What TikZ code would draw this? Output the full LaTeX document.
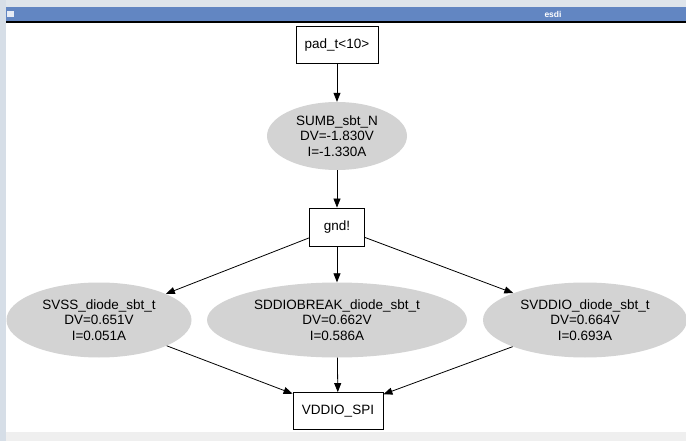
\documentclass[tikz,border=0pt]{standalone}
\usepackage{fontspec}
\setmainfont{Liberation Sans}
\usetikzlibrary{shapes.geometric,arrows.meta}

\definecolor{barblue}{HTML}{6286C2}
\definecolor{framegray}{HTML}{D6DEE7}
\definecolor{topgray}{HTML}{DFE5EB}
\definecolor{footgray}{HTML}{EFEFEF}
\definecolor{cellgray}{HTML}{D3D3D3}

\tikzset{
    netbox/.style={draw=black, fill=white, line width=0.8pt, inner sep=0pt,
        minimum height=37pt, font=\fontsize{13.5}{15.5}\selectfont},
    diodeoval/.style={ellipse, fill=cellgray, inner sep=0pt, align=center,
        minimum height=75pt, font=\fontsize{13.5}{15.5}\selectfont},
    flow/.style={line width=0.8pt, -{Triangle[length=9pt, width=7pt]}}
}

\newcommand{\esdedges}{%
    pad/sumb, sumb/gnd, gnd/svss, gnd/sddio, gnd/svddio,
    svss/vddio, sddio/vddio, svddio/vddio%
}

\begin{document}
\begin{tikzpicture}[x=1pt, y=-1pt]
    % Window frame
    \useasboundingbox (0,0) rectangle (686,441);
    \fill[framegray] (0,0) rectangle (686,441);
    \fill[topgray] (6,0) rectangle (686,7);
    \fill[barblue] (6,7) rectangle (686,21);
    \fill[black] (6,21) rectangle (686,23);
    \fill[white] (6,23) rectangle (686,432);
    \fill[footgray] (6,432) rectangle (686,441);
    \fill[white, opacity=0.85] (7,11) rectangle (14,17);
    \node[text=white, font=\fontsize{8.5}{10}\selectfont\bfseries] (title) at (553,14.5) {esdi};

    % Draw nets (boxes)
    \node[netbox, minimum width=82pt] (pad) at (337,45) {pad\_t<10>};
    \node[netbox, minimum width=55pt, minimum height=38pt] (gnd) at (337,227) {gnd!};
    \node[netbox, minimum width=90pt] (vddio) at (338,411) {VDDIO\_SPI};

    % Draw diodes (ellipses)
    \node[diodeoval, minimum width=140pt, minimum height=68pt] (sumb) at (337,136)
        {SUMB\_sbt\_N\\DV=-1.830V\\ I=-1.330A};
    \node[diodeoval, minimum width=185pt] (svss) at (99,320)
        {SVSS\_diode\_sbt\_t\\DV=0.651V\\I=0.051A};
    \node[diodeoval, minimum width=260pt] (sddio) at (337,320)
        {SDDIOBREAK\_diode\_sbt\_t\\DV=0.662V\\I=0.586A};
    \node[diodeoval, minimum width=204pt] (svddio) at (585,320)
        {SVDDIO\_diode\_sbt\_t\\DV=0.664V\\I=0.693A};

    % Draw connections
    \foreach \a/\b in \esdedges {
        \draw[flow] (\a) -- (\b);
    }
\end{tikzpicture}
\end{document}
